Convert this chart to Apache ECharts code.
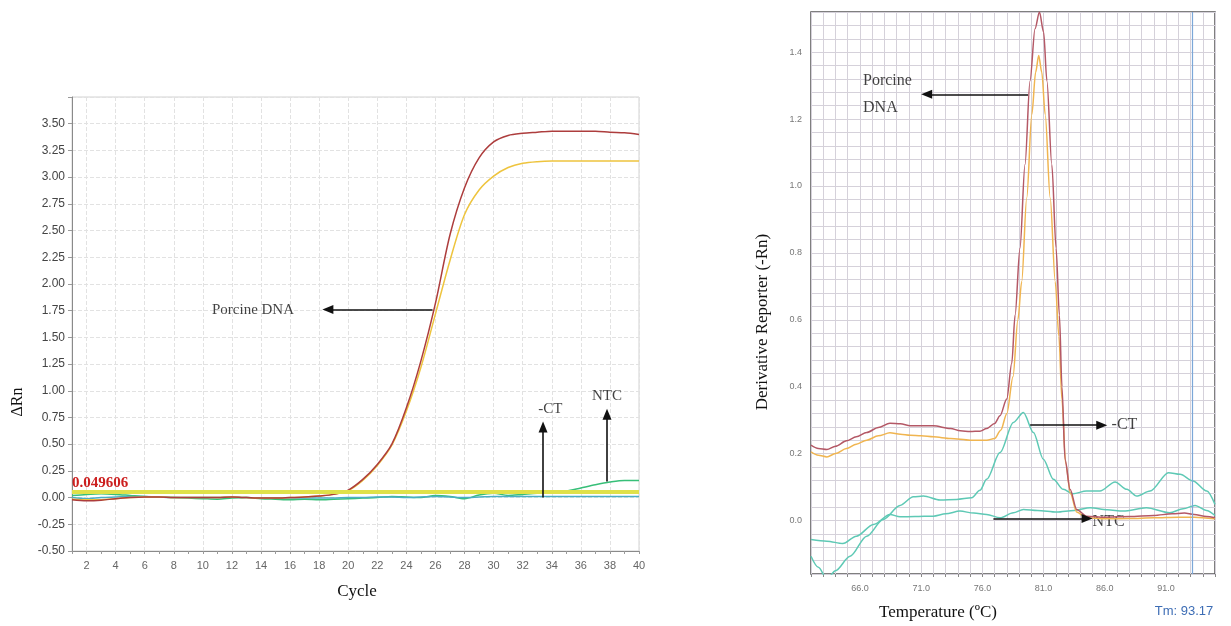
<!DOCTYPE html>
<html>
<head>
<meta charset="utf-8">
<script src="https://cdn.jsdelivr.net/npm/echarts@6/dist/echarts.min.js"></script>
<style>
  html, body { margin: 0; padding: 0; background: #ffffff; }
  #chart { width: 1231px; height: 626px; }
</style>
</head>
<body>
<div id="chart"></div>
<script>
// ---- Amplification plot (ΔRn vs cycle) ----
const cycles = [1,2,3,4,5,6,7,8,9,10,11,12,13,14,15,16,17,18,19,20,
                21,22,23,24,25,26,27,28,29,30,31,32,33,34,35,36,37,38,39,40];
const porcineA = [-0.02,-0.03,-0.025,-0.01,0.0,0.005,0.005,0.0,0.0,0.0,
                  0.0,0.005,0.0,-0.005,-0.005,0.0,0.005,0.015,0.03,0.07,
                  0.17,0.31,0.50,0.84,1.28,1.82,2.46,2.90,3.18,3.33,
                  3.39,3.41,3.42,3.43,3.43,3.43,3.43,3.42,3.415,3.40];
const porcineB = [-0.015,-0.02,-0.02,-0.01,0.0,0.005,0.005,0.0,0.0,0.0,
                  0.0,0.005,0.0,-0.005,-0.005,0.0,0.005,0.015,0.03,0.065,
                  0.16,0.30,0.49,0.81,1.22,1.72,2.22,2.65,2.88,3.01,
                  3.09,3.13,3.145,3.15,3.15,3.15,3.15,3.15,3.15,3.15];
const ntcAmp = [0.02,0.03,0.035,0.03,0.02,0.01,0.005,0.0,-0.005,-0.01,
                -0.015,-0.005,0.0,-0.01,-0.015,-0.02,-0.015,-0.02,-0.015,-0.01,
                -0.005,0.0,0.01,0.005,0.0,0.02,0.01,-0.01,0.025,0.04,
                0.02,0.03,0.04,0.045,0.06,0.09,0.12,0.145,0.16,0.16];
const negCtrlAmp = [0.0,-0.01,0.0,0.005,0.01,0.01,0.005,0.0,0.0,0.0,
                    0.0,0.005,0.0,-0.005,-0.005,-0.005,-0.005,-0.005,-0.005,0.0,
                    0.0,0.005,0.005,0.0,0.005,0.01,0.005,0.0,0.005,0.01,
                    0.01,0.01,0.01,0.01,0.01,0.01,0.01,0.01,0.01,0.01];
const threshold = 0.049606;

// ---- Melt curve (derivative reporter vs temperature) ----
const meltTempA = [62.0,62.6,63.3,64.0,64.9,65.7,66.55,67.5,68.45,69.3,70.1,71.0,72.0,73.4,74.2,75.0,75.8,76.35,77.0,77.44,77.99,78.4,78.67,79.07,79.48,79.89,80.3,80.66,81.0,81.27,81.67,82.02,82.29,82.5,82.75,83.16,83.7,84.5,86.0,88.0,90.0,91.5,92.5,93.3,94.3,95.0];
const meltA     = [0.225,0.215,0.212,0.222,0.238,0.25,0.263,0.278,0.291,0.289,0.283,0.283,0.283,0.275,0.268,0.266,0.267,0.275,0.29,0.313,0.363,0.47,0.614,0.814,1.064,1.314,1.47,1.52,1.46,1.314,1.064,0.814,0.614,0.40,0.183,0.093,0.033,0.013,0.01,0.012,0.015,0.02,0.022,0.018,0.012,0.008];
const meltTempB = [62.0,62.6,63.3,64.0,64.9,65.7,66.55,67.5,68.45,69.3,70.1,71.0,72.0,73.4,75.0,76.35,77.0,77.5,78.0,78.5,78.9,79.21,79.62,80.04,80.35,80.6,80.85,81.13,81.54,81.95,82.25,82.5,82.8,83.2,83.7,84.5,86.0,88.0,90.0,92.0,93.3,95.0];
const meltB     = [0.205,0.195,0.19,0.2,0.215,0.228,0.24,0.253,0.262,0.258,0.255,0.253,0.25,0.245,0.24,0.24,0.245,0.27,0.32,0.43,0.6,0.714,0.964,1.214,1.34,1.39,1.34,1.214,0.964,0.714,0.55,0.36,0.17,0.08,0.025,0.008,0.005,0.006,0.008,0.01,0.01,0.005];
const meltTempCt = [62.0,62.6,63.3,64.0,65.19,66.55,67.9,69.27,70.36,71.18,72.54,73.9,75.13,75.8,76.35,77.44,78.53,79.35,80.17,80.98,81.8,82.6,83.4,84.5,85.6,86.84,87.8,88.6,89.7,91.2,92.15,93.2,94.33,95.0];
const meltCt     = [-0.107,-0.14,-0.175,-0.15,-0.107,-0.047,0.003,0.045,0.071,0.073,0.061,0.063,0.068,0.09,0.123,0.203,0.293,0.323,0.263,0.183,0.123,0.093,0.08,0.088,0.088,0.115,0.093,0.073,0.088,0.143,0.138,0.118,0.088,0.048];
const meltTempNtc = [62.0,63.3,64.6,65.7,67.1,68.45,69.27,70.5,71.99,73.0,74.17,75.3,76.35,77.44,78.53,79.35,80.5,82.07,83.5,84.8,86.2,87.5,89.4,91.3,92.4,93.37,94.3,95.0];
const meltNtc     = [-0.057,-0.062,-0.069,-0.047,-0.012,0.018,0.011,0.012,0.013,0.02,0.028,0.022,0.018,0.008,0.023,0.033,0.03,0.025,0.03,0.038,0.032,0.028,0.038,0.023,0.035,0.045,0.03,0.015];
const tm = 93.17;

// ---- Annotations (data coordinates) ----
const leftNotes  = [[13.45, 1.76, 'Porcine DNA'], [33.9, 0.83, '-CT'], [37.8, 0.95, 'NTC']];
const leftArrows = [[[25.8, 1.76], [18.6, 1.76]], [[33.4, 0.0], [33.4, 0.66]], [[37.8, 0.15], [37.8, 0.78]]];
const rightNotes  = [[66.25, 1.315, 'Porcine'], [66.25, 1.234, 'DNA'], [86.55, 0.285, '-CT'], [85.0, -0.005, 'NTC']];
const rightArrows = [[[79.73, 1.274], [71.45, 1.274]], [[79.9, 0.285], [85.75, 0.285]], [[76.9, 0.006], [84.55, 0.006]]];

const zip = (xs, ys) => xs.map((x, i) => [x, ys[i]]);
const serif = 'Liberation Serif, Times New Roman, serif';
const sans = 'Liberation Sans, Arial, sans-serif';

const arrowLines = (pairs) => ({
  silent: true,
  symbol: ['none', 'triangle'],
  symbolSize: [9, 11],
  lineStyle: { color: '#111', width: 1.6, type: 'solid' },
  label: { show: false },
  emphasis: { disabled: true },
  data: pairs.map(([a, b]) => [{ coord: a }, { coord: b }])
});

const chart = echarts.init(document.getElementById('chart'), null, { renderer: 'canvas' });

chart.setOption({
  animation: false,
  backgroundColor: '#ffffff',
  grid: [
    { left: 72, top: 97, width: 567, height: 454, show: true, borderColor: '#d2d2d2', borderWidth: 1, backgroundColor: 'transparent' },
    { left: 811, top: 12, width: 404, height: 562, show: true, borderColor: '#555', borderWidth: 1.5, backgroundColor: 'transparent' }
  ],
  xAxis: [
    {
      type: 'value', gridIndex: 0, min: 1, max: 40, interval: 1,
      axisLine: { show: true, onZero: false, lineStyle: { color: '#8a8a8a' } },
      axisTick: { show: true, length: 3, lineStyle: { color: '#9a9a9a' } },
      axisLabel: {
        fontFamily: sans, fontSize: 11, color: '#666', margin: 9,
        formatter: v => (v % 2 === 0 ? String(v) : '')
      },
      splitLine: { show: true, lineStyle: { color: ['rgba(0,0,0,0)', '#e2e2e2'], type: 'dashed', width: 1 } }
    },
    {
      type: 'value', gridIndex: 1, min: 62, max: 95, interval: 1,
      axisLine: { show: false, onZero: false },
      axisTick: { show: true, length: 3, lineStyle: { color: '#888' } },
      axisLabel: {
        fontFamily: sans, fontSize: 9, color: '#777', margin: 10,
        formatter: v => (Number.isInteger(v) && v >= 66 && v <= 91 && (v - 66) % 5 === 0 ? v.toFixed(1) : '')
      },
      splitLine: { show: true, lineStyle: { color: '#d5d1da', width: 1 } }
    }
  ],
  yAxis: [
    {
      type: 'value', gridIndex: 0, min: -0.5, max: 3.75, interval: 0.25,
      axisLine: { show: true, onZero: false, lineStyle: { color: '#8a8a8a' } },
      axisTick: { show: true, length: 4, lineStyle: { color: '#9a9a9a' } },
      axisLabel: {
        fontFamily: sans, fontSize: 12, color: '#444', margin: 7,
        formatter: v => (v > 3.6 ? '' : v.toFixed(2))
      },
      splitLine: { show: true, lineStyle: { color: '#e2e2e2', type: 'dashed', width: 1 } }
    },
    {
      type: 'value', gridIndex: 1, min: -0.16, max: 1.52, interval: 0.04,
      axisLine: { show: false, onZero: false },
      axisTick: { show: false },
      axisLabel: {
        fontFamily: sans, fontSize: 9, color: '#777', margin: 9,
        formatter: v => (Math.round(v * 100) % 20 === 0 ? (Math.abs(v) < 1e-9 ? 0 : v).toFixed(1) : '')
      },
      splitLine: { show: true, lineStyle: { color: '#d5d1da', width: 1 } }
    }
  ],
  series: [
    // amplification curves
    {
      name: 'NTC', type: 'line', xAxisIndex: 0, yAxisIndex: 0, data: zip(cycles, ntcAmp),
      showSymbol: false, smooth: 0.3, lineStyle: { color: '#37bf78', width: 1.5 },
      markLine: {
        silent: true, symbol: ['none', 'none'],
        lineStyle: { color: '#dfe14a', width: 4, type: 'solid' },
        label: {
          show: true, position: 'insideStartTop', distance: [0, 2],
          formatter: () => String(threshold),
          fontFamily: serif, fontWeight: 'bold', fontSize: 15, color: '#cc1f1f'
        },
        data: [{ yAxis: threshold }]
      }
    },
    {
      name: '-CT', type: 'line', xAxisIndex: 0, yAxisIndex: 0, data: zip(cycles, negCtrlAmp),
      showSymbol: false, smooth: 0.3, lineStyle: { color: '#4aaec4', width: 1.5 }
    },
    {
      name: 'Porcine DNA B', type: 'line', xAxisIndex: 0, yAxisIndex: 0, data: zip(cycles, porcineB),
      showSymbol: false, smooth: 0.3, lineStyle: { color: '#eec43e', width: 1.5 }
    },
    {
      name: 'Porcine DNA A', type: 'line', xAxisIndex: 0, yAxisIndex: 0, data: zip(cycles, porcineA),
      showSymbol: false, smooth: 0.3, lineStyle: { color: '#ad3d3d', width: 1.5 }
    },
    {
      name: 'notes-amp', type: 'scatter', xAxisIndex: 0, yAxisIndex: 0, data: leftNotes,
      symbolSize: 0, silent: true,
      label: {
        show: true, position: 'inside', align: 'center', verticalAlign: 'middle',
        formatter: p => p.data[2], fontFamily: serif, fontSize: 15, color: '#111'
      },
      markLine: arrowLines(leftArrows)
    },
    // melt curves
    {
      name: 'NTC melt', type: 'line', xAxisIndex: 1, yAxisIndex: 1, data: zip(meltTempNtc, meltNtc),
      showSymbol: false, smooth: 0.3, smoothMonotone: 'x', lineStyle: { color: '#5ec9b5', width: 1.5 },
      markLine: {
        silent: true, symbol: ['none', 'none'],
        lineStyle: { color: '#7ba7d8', width: 1.2, type: 'solid' },
        label: { show: false },
        data: [{ xAxis: tm }]
      }
    },
    {
      name: '-CT melt', type: 'line', xAxisIndex: 1, yAxisIndex: 1, data: zip(meltTempCt, meltCt),
      showSymbol: false, smooth: 0.3, smoothMonotone: 'x', lineStyle: { color: '#5ec9b5', width: 1.5 }
    },
    {
      name: 'Porcine melt B', type: 'line', xAxisIndex: 1, yAxisIndex: 1, data: zip(meltTempB, meltB),
      showSymbol: false, smooth: 0.3, smoothMonotone: 'x', lineStyle: { color: '#f0b550', width: 1.5 }
    },
    {
      name: 'Porcine melt A', type: 'line', xAxisIndex: 1, yAxisIndex: 1, data: zip(meltTempA, meltA),
      showSymbol: false, smooth: 0.3, smoothMonotone: 'x', lineStyle: { color: '#b45866', width: 1.5 }
    },
    {
      name: 'notes-melt', type: 'scatter', xAxisIndex: 1, yAxisIndex: 1, data: rightNotes,
      symbolSize: 0, silent: true,
      label: {
        show: true, position: 'inside', align: 'left', verticalAlign: 'middle',
        formatter: p => p.data[2], fontFamily: serif, fontSize: 16, color: '#111'
      },
      markLine: arrowLines(rightArrows)
    }
  ],
  graphic: [
    { type: 'text', x: 18, y: 402, rotation: Math.PI / 2, silent: true,
      style: { text: 'ΔRn', font: '16px ' + serif, fill: '#111', align: 'center', verticalAlign: 'middle' } },
    { type: 'text', x: 357, y: 592, silent: true,
      style: { text: 'Cycle', font: '17px ' + serif, fill: '#111', align: 'center', verticalAlign: 'middle' } },
    { type: 'text', x: 763, y: 322, rotation: Math.PI / 2, silent: true,
      style: { text: 'Derivative Reporter (-Rn)', font: '17px ' + serif, fill: '#111', align: 'center', verticalAlign: 'middle' } },
    { type: 'text', x: 938, y: 613, silent: true,
      style: { text: 'Temperature (ºC)', font: '17px ' + serif, fill: '#111', align: 'center', verticalAlign: 'middle' } },
    { type: 'text', x: 1184, y: 611, silent: true,
      style: { text: 'Tm: ' + tm.toFixed(2), font: '13px ' + sans, fill: '#3d6db5', align: 'center', verticalAlign: 'middle' } }
  ]
});
</script>
</body>
</html>
